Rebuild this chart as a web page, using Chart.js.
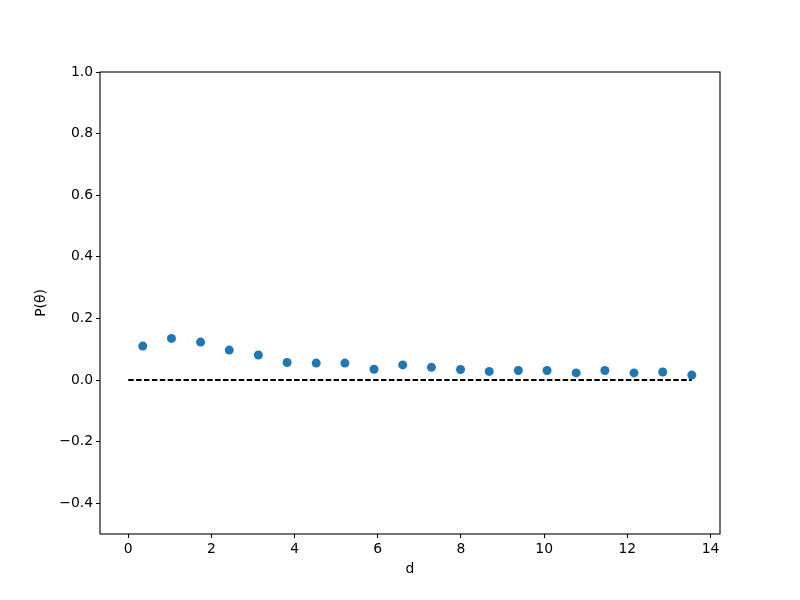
<!DOCTYPE html>
<html>
<head>
<meta charset="utf-8">
<script src="https://cdn.jsdelivr.net/npm/chart.js@4/dist/chart.umd.min.js"></script>
<style>
html,body{margin:0;padding:0;background:#fff;}
canvas{display:block;}
</style>
</head>
<body>
<canvas id="c" width="800" height="600"></canvas>
<script>
// Data
const dValues = [0.35, 1.04, 1.74, 2.43, 3.13, 3.82, 4.52, 5.21, 5.91, 6.60, 7.29, 7.99, 8.68, 9.38, 10.07, 10.77, 11.46, 12.16, 12.85, 13.55];
const pValues = [0.110, 0.135, 0.123, 0.097, 0.081, 0.057, 0.055, 0.055, 0.035, 0.049, 0.041, 0.034, 0.028, 0.031, 0.031, 0.023, 0.031, 0.023, 0.026, 0.016];
const zeroLineX = [0, 13.55];
const zeroLineY = [0, 0];
const xTicks = [0, 2, 4, 6, 8, 10, 12, 14];
const xTickLabels = ["0", "2", "4", "6", "8", "10", "12", "14"];
const yTicks = [-0.4, -0.2, 0.0, 0.2, 0.4, 0.6, 0.8, 1.0];
const yTickLabels = ["\u22120.4", "\u22120.2", "0.0", "0.2", "0.4", "0.6", "0.8", "1.0"];
const xLabel = "d";
const yLabel = "P(\u03B8)";

const FONT = {family: "'DejaVu Sans'", size: 13.9};

const boxPlugin = {
  id: 'box',
  afterDraw(chart) {
    const {ctx, chartArea: a} = chart;
    ctx.save();
    ctx.strokeStyle = '#000';
    ctx.lineWidth = 1.1;
    ctx.strokeRect(a.left, a.top, a.right - a.left, a.bottom - a.top);
    ctx.restore();
  }
};

new Chart(document.getElementById('c'), {
  data: {
    datasets: [
      {
        type: 'line',
        data: zeroLineX.map((x, i) => ({x: x, y: zeroLineY[i]})),
        borderColor: '#000',
        borderWidth: 1.9,
        borderDash: [5.5, 2.4],
        pointRadius: 0,
        fill: false,
        order: 2
      },
      {
        type: 'scatter',
        data: dValues.map((x, i) => ({x: x, y: pValues[i]})),
        backgroundColor: '#1f77b4',
        borderColor: '#1f77b4',
        borderWidth: 0,
        pointRadius: 4.5,
        pointHoverRadius: 4.5,
        order: 1
      }
    ]
  },
  options: {
    responsive: false,
    animation: false,
    events: [],
    layout: {padding: {top: 72, right: 80, left: 0, bottom: 0}},
    plugins: {legend: {display: false}, tooltip: {enabled: false}},
    scales: {
      x: {
        type: 'linear',
        min: -0.6775,
        max: 14.2275,
        afterBuildTicks: s => { s.ticks = xTicks.map(v => ({value: v})); },
        afterFit: s => { s.height = 66; },
        ticks: {
          color: '#000', font: FONT, padding: 3, autoSkip: false, maxRotation: 0,
          callback: (v, i) => xTickLabels[i]
        },
        grid: {display: true, drawOnChartArea: false, drawTicks: true, tickLength: 4, tickColor: '#000', tickWidth: 1},
        border: {display: false},
        title: {display: true, text: xLabel, color: '#000', font: FONT, padding: {top: 0, bottom: 22}}
      },
      y: {
        type: 'linear',
        min: -0.5,
        max: 1.0,
        afterBuildTicks: s => { s.ticks = yTicks.map(v => ({value: v})); },
        afterFit: s => { s.width = 100; },
        ticks: {
          color: '#000', font: FONT, padding: 3,
          callback: (v, i) => yTickLabels[i]
        },
        grid: {display: true, drawOnChartArea: false, drawTicks: true, tickLength: 4, tickColor: '#000', tickWidth: 1},
        border: {display: false},
        title: {display: true, text: yLabel, color: '#000', font: FONT, padding: {top: 33, bottom: 0}}
      }
    }
  },
  plugins: [boxPlugin]
});
</script>
</body>
</html>
